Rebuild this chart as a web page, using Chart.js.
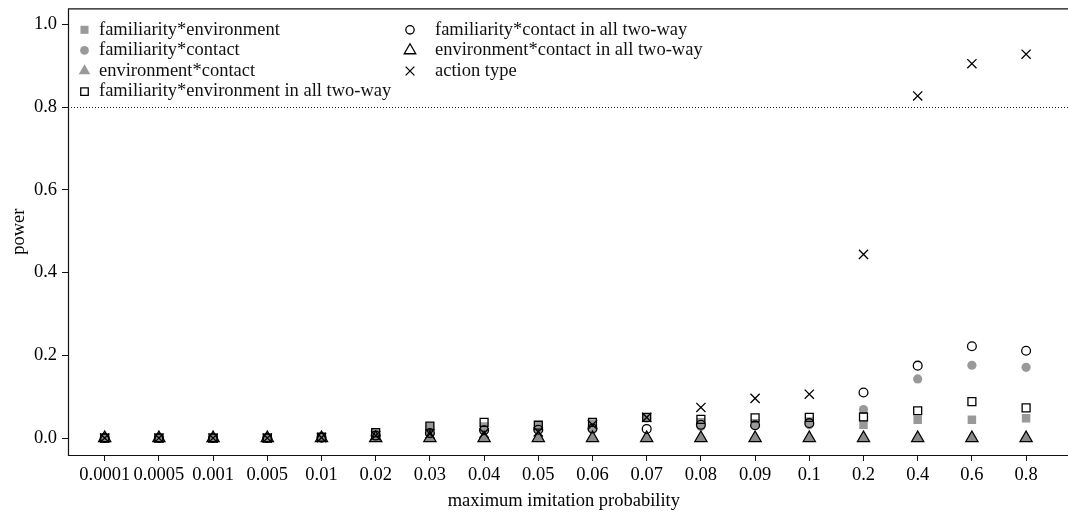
<!DOCTYPE html>
<html>
<head>
<meta charset="utf-8">
<script src="https://cdn.jsdelivr.net/npm/chart.js@4/dist/chart.umd.min.js"></script>
<style>
  html, body { margin: 0; padding: 0; background: #fff; overflow: hidden; }
  #wrap { width: 1068px; height: 514px; }
</style>
</head>
<body>
<div id="wrap"><canvas id="c" width="1068" height="514"></canvas></div>
<script>
// maximum imitation probability levels (x categories)
const categories = ['0.0001', '0.0005', '0.001', '0.005', '0.01', '0.02', '0.03', '0.04', '0.05',
                    '0.06', '0.07', '0.08', '0.09', '0.1', '0.2', '0.4', '0.6', '0.8'];

// estimated power per effect
const famEnv      = [0, 0, 0, 0, 0.002, 0.012, 0.028, 0.028, 0.030, 0.035, 0.050, 0.038, 0.036, 0.040, 0.032, 0.044, 0.044, 0.048];
const famCon      = [0, 0, 0, 0, 0.001, 0.005, 0.010, 0.018, 0.020, 0.020, 0.048, 0.028, 0.030, 0.032, 0.069, 0.143, 0.176, 0.171];
const envCon      = [0, 0, 0, 0, 0, 0, 0, 0, 0, 0, 0, 0, 0, 0, 0, 0, 0, 0];
const famEnvAll   = [0, 0, 0, 0, 0.002, 0.013, 0.029, 0.038, 0.031, 0.038, 0.050, 0.045, 0.049, 0.050, 0.051, 0.066, 0.088, 0.073];
const famConAll   = [0, 0, 0, 0, 0.001, 0.006, 0.012, 0.019, 0.020, 0.023, 0.022, 0.032, 0.031, 0.036, 0.110, 0.175, 0.222, 0.211];
const envConAll   = [0, 0, 0, 0, 0, 0, 0, 0, 0, 0, 0, 0, 0, 0, 0, 0, 0, 0];
const actionType  = [0, 0, 0, 0, 0.001, 0.006, 0.010, 0.012, 0.015, 0.032, 0.050, 0.074, 0.096, 0.106, 0.444, 0.827, 0.905, 0.928];

const yTickValues = [0, 0.2, 0.4, 0.6, 0.8, 1.0];
const powerThreshold = 0.8;

const GREY = '#999999';
const INK = '#000000';
const FONT_FAMILY = '"Liberation Serif", "DejaVu Serif", serif';
const FONT_SIZE = 18.5;

Chart.defaults.font.family = FONT_FAMILY;
Chart.defaults.font.size = FONT_SIZE;
Chart.defaults.color = INK;

const toPoints = arr => arr.map((v, i) => ({ x: i, y: v }));

const series = [
  { label: 'familiarity*environment', data: famEnv, style: 'rect', r: 6, fill: GREY, line: GREY, bw: 0 },
  { label: 'familiarity*contact', data: famCon, style: 'circle', r: 4.6, fill: GREY, line: GREY, bw: 0 },
  { label: 'environment*contact', data: envCon, style: 'triangle', r: 7, fill: '#8a8a8a', line: '#8a8a8a', bw: 0 },
  { label: 'familiarity*environment in all two-way', data: famEnvAll, style: 'rect', r: 5.6, fill: 'rgba(0,0,0,0)', line: INK, bw: 1.3 },
  { label: 'familiarity*contact in all two-way', data: famConAll, style: 'circle', r: 4.4, fill: 'rgba(0,0,0,0)', line: INK, bw: 1.3 },
  { label: 'environment*contact in all two-way', data: envConAll, style: 'triangle', r: 7, fill: 'rgba(0,0,0,0)', line: INK, bw: 1.3 },
  { label: 'action type', data: actionType, style: 'crossRot', r: 6.5, fill: 'rgba(0,0,0,0)', line: INK, bw: 1.3 }
];

const datasets = series.map((s, i) => ({
  label: s.label,
  data: toPoints(s.data),
  showLine: false,
  pointStyle: s.style,
  pointRadius: s.r,
  pointBackgroundColor: s.fill,
  pointBorderColor: s.line,
  pointBorderWidth: s.bw,
  backgroundColor: s.fill,
  borderColor: s.line,
  borderWidth: s.bw,
  order: -i
}));

// plot frame (left, top, bottom) and dotted 0.8 reference line
const framePlugin = {
  id: 'frame',
  beforeDatasetsDraw(chart) {
    const { ctx, chartArea: a, scales } = chart;
    ctx.save();
    ctx.strokeStyle = '#111';
    ctx.lineWidth = 1.2;
    ctx.beginPath();
    ctx.moveTo(chart.width, a.top + 0.5);
    ctx.lineTo(a.left + 0.5, a.top + 0.5);
    ctx.lineTo(a.left + 0.5, a.bottom + 0.5);
    ctx.lineTo(chart.width, a.bottom + 0.5);
    ctx.stroke();

    const yv = Math.round(scales.y.getPixelForValue(powerThreshold)) + 0.5;
    ctx.setLineDash([1, 2]);
    ctx.lineWidth = 1;
    ctx.strokeStyle = '#222';
    ctx.beginPath();
    ctx.moveTo(a.left, yv);
    ctx.lineTo(chart.width, yv);
    ctx.stroke();
    ctx.restore();
  }
};

// two-column key in the upper left of the plot
const keyPlugin = {
  id: 'seriesKey',
  afterDraw(chart) {
    const { ctx, chartArea: a } = chart;
    ctx.save();
    chart.data.datasets.forEach((ds, i) => {
      const col = i < 4 ? 0 : 1;
      const row = i < 4 ? i : i - 4;
      const mx = a.left + (col ? 342 : 16.5);
      const tx = a.left + (col ? 367 : 31);
      const y = a.top + 21.5 + row * 20.6;
      ctx.fillStyle = i === 2 ? GREY : ds.pointBackgroundColor;
      ctx.strokeStyle = ds.pointBorderColor;
      ctx.lineWidth = ds.pointBorderWidth;
      ctx.setLineDash([]);
      Chart.helpers.drawPoint(ctx, {
        pointStyle: ds.pointStyle,
        radius: ds.pointRadius * 0.95,
        borderWidth: ds.pointBorderWidth,
        rotation: 0
      }, mx, y);
      ctx.fillStyle = '#111';
      ctx.font = FONT_SIZE + 'px ' + FONT_FAMILY;
      ctx.textBaseline = 'middle';
      ctx.textAlign = 'left';
      ctx.fillText(ds.label, tx, y);
    });
    ctx.restore();
  }
};

new Chart(document.getElementById('c'), {
  type: 'scatter',
  data: { datasets },
  options: {
    responsive: false,
    animation: false,
    events: [],
    devicePixelRatio: 1,
    layout: { padding: { top: 8, left: 0, right: 0, bottom: 0 } },
    plugins: { legend: { display: false }, tooltip: { enabled: false } },
    scales: {
      x: {
        type: 'linear',
        min: -0.677,
        max: 17.62,
        afterBuildTicks: s => { s.ticks = categories.map((c, i) => ({ value: i })); },
        afterFit: s => { s.height = 59; s.paddingLeft = 0; s.paddingRight = 0; },
        ticks: {
          callback: v => categories[v],
          autoSkip: false, maxRotation: 0, minRotation: 0,
          padding: 3, color: INK, font: { size: FONT_SIZE }
        },
        grid: { drawOnChartArea: false, drawTicks: true, tickLength: 6, color: '#111', lineWidth: 1 },
        border: { display: false },
        title: { display: true, text: 'maximum imitation probability', padding: { bottom: 2 }, color: INK, font: { size: FONT_SIZE } }
      },
      y: {
        type: 'linear',
        min: -0.041,
        max: 1.039,
        afterBuildTicks: s => { s.ticks = yTickValues.map(v => ({ value: v })); },
        afterFit: s => { s.width = 68; s.paddingTop = 0; s.paddingBottom = 0; },
        ticks: { callback: v => v.toFixed(1), padding: 5, color: INK, font: { size: FONT_SIZE } },
        grid: { drawOnChartArea: false, drawTicks: true, tickLength: 6, color: '#111', lineWidth: 1 },
        border: { display: false },
        title: { display: true, text: 'power', padding: { top: 8 }, color: INK, font: { size: FONT_SIZE } }
      }
    }
  },
  plugins: [framePlugin, keyPlugin]
});
</script>
</body>
</html>
